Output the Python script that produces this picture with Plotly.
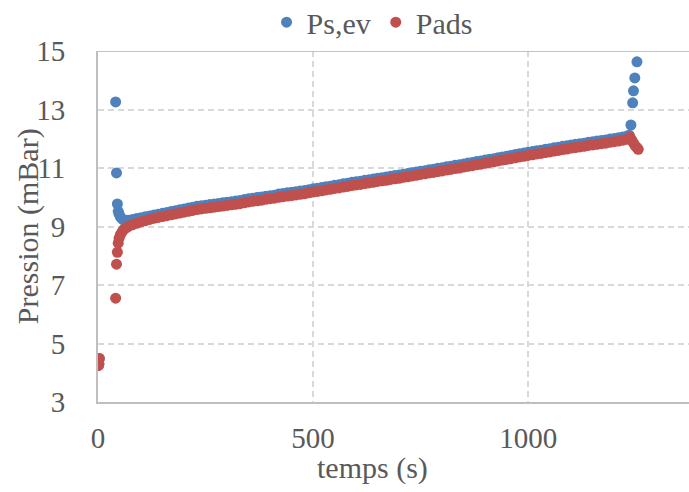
import plotly.graph_objects as go

# ---- data ----
t_ps = [1, 2, 3, 41, 43, 45, 47, 49, 52, 56, 60, 65,
        70, 80, 90, 100, 110, 120, 130, 140, 150, 160, 170, 180, 190, 200,
        210, 220, 230, 240, 250, 260, 270, 280, 290, 300,
        310, 320, 330, 340, 350, 360, 370, 380, 390, 400,
        410, 420, 430, 440, 450, 460, 470, 480, 490, 500,
        510, 520, 530, 540, 550, 560, 570, 580, 590, 600,
        610, 620, 630, 640, 650, 660, 670, 680, 690, 700,
        710, 720, 730, 740, 750, 760, 770, 780, 790, 800,
        810, 820, 830, 840, 850, 860, 870, 880, 890, 900,
        910, 920, 930, 940, 950, 960, 970, 980, 990, 1000,
        1010, 1020, 1030, 1040, 1050, 1060, 1070, 1080, 1090, 1100,
        1110, 1120, 1130, 1140, 1150, 1160, 1170, 1180, 1190, 1200,
        1210, 1220, 1230, 1235, 1239, 1243, 1245, 1248, 1253]
ps_ev = [4.25, 4.30, 4.49, 13.26, 10.83, 9.77, 9.52, 9.42, 9.33, 9.26, 9.22, 9.20,
         9.21, 9.24, 9.27, 9.30, 9.33, 9.36, 9.39, 9.42, 9.45, 9.48, 9.51, 9.54, 9.57, 9.60,
         9.63, 9.66, 9.69, 9.71, 9.73, 9.75, 9.77, 9.79, 9.81, 9.83,
         9.85, 9.87, 9.89, 9.92, 9.95, 9.97, 9.99, 10.01, 10.03, 10.05,
         10.07, 10.11, 10.13, 10.15, 10.17, 10.19, 10.21, 10.23, 10.26, 10.29,
         10.31, 10.33, 10.36, 10.38, 10.41, 10.43, 10.46, 10.48, 10.51, 10.53,
         10.55, 10.58, 10.60, 10.62, 10.65, 10.67, 10.69, 10.72, 10.74, 10.76,
         10.79, 10.81, 10.84, 10.86, 10.89, 10.91, 10.94, 10.96, 10.99, 11.01,
         11.04, 11.06, 11.09, 11.11, 11.14, 11.17, 11.19, 11.22, 11.24, 11.27,
         11.30, 11.32, 11.35, 11.38, 11.40, 11.43, 11.46, 11.49, 11.51, 11.54,
         11.56, 11.59, 11.61, 11.64, 11.66, 11.69, 11.71, 11.74, 11.76, 11.79,
         11.81, 11.83, 11.85, 11.88, 11.90, 11.92, 11.94, 11.96, 11.99, 12.01,
         12.03, 12.06, 12.09, 12.12, 12.47, 13.23, 13.64, 14.08, 14.63]

t_pads = [1, 2, 3, 41, 43, 45, 47, 49, 52, 56, 60, 65,
          70, 80, 90, 100, 110, 120, 130, 140, 150, 160, 170, 180, 190, 200,
          210, 220, 230, 240, 250, 260, 270, 280, 290, 300,
          310, 320, 330, 340, 350, 360, 370, 380, 390, 400,
          410, 420, 430, 440, 450, 460, 470, 480, 490, 500,
          510, 520, 530, 540, 550, 560, 570, 580, 590, 600,
          610, 620, 630, 640, 650, 660, 670, 680, 690, 700,
          710, 720, 730, 740, 750, 760, 770, 780, 790, 800,
          810, 820, 830, 840, 850, 860, 870, 880, 890, 900,
          910, 920, 930, 940, 950, 960, 970, 980, 990, 1000,
          1010, 1020, 1030, 1040, 1050, 1060, 1070, 1080, 1090, 1100,
          1110, 1120, 1130, 1140, 1150, 1160, 1170, 1180, 1190, 1200,
          1210, 1220, 1230, 1237, 1241, 1245, 1249, 1253, 1256]
pads = [4.25, 4.30, 4.49, 6.55, 7.71, 8.12, 8.43, 8.60, 8.72, 8.82, 8.90, 8.95,
        9.00, 9.06, 9.11, 9.16, 9.20, 9.24, 9.28, 9.31, 9.34, 9.37, 9.40, 9.43, 9.46, 9.49,
        9.52, 9.55, 9.58, 9.60, 9.62, 9.64, 9.66, 9.68, 9.70, 9.72,
        9.74, 9.76, 9.78, 9.81, 9.84, 9.86, 9.88, 9.90, 9.93, 9.95,
        9.97, 10.00, 10.02, 10.04, 10.06, 10.08, 10.10, 10.12, 10.15, 10.18,
        10.20, 10.22, 10.25, 10.27, 10.30, 10.32, 10.35, 10.37, 10.40, 10.42,
        10.44, 10.47, 10.49, 10.51, 10.54, 10.56, 10.58, 10.61, 10.63, 10.65,
        10.68, 10.70, 10.73, 10.75, 10.78, 10.80, 10.83, 10.85, 10.88, 10.90,
        10.93, 10.95, 10.98, 11.00, 11.03, 11.06, 11.08, 11.11, 11.13, 11.16,
        11.19, 11.21, 11.24, 11.27, 11.29, 11.32, 11.35, 11.38, 11.40, 11.43,
        11.45, 11.48, 11.50, 11.53, 11.55, 11.58, 11.60, 11.63, 11.65, 11.68,
        11.70, 11.72, 11.74, 11.77, 11.79, 11.81, 11.83, 11.85, 11.88, 11.90,
        11.92, 11.95, 11.98, 12.05, 11.95, 11.85, 11.76, 11.70, 11.64]

x_ticks = [0, 500, 1000]
y_ticks = [3, 5, 7, 9, 11, 13, 15]

FONT = "Liberation Serif"
TXT = "#595959"

fig = go.Figure()
fig.add_trace(go.Scatter(x=t_ps, y=ps_ev, mode="markers", name="Ps,ev",
                         marker=dict(color="#4F81BD", size=11, line=dict(width=0))))
fig.add_trace(go.Scatter(x=t_pads, y=pads, mode="markers", name="Pads",
                         marker=dict(color="#C0504D", size=11, line=dict(width=0))))

fig.update_layout(
    width=689, height=492,
    margin=dict(l=98, r=0, t=51, b=90, autoexpand=False),
    paper_bgcolor="white", plot_bgcolor="white",
    font=dict(family=FONT, size=29, color=TXT),
    showlegend=True,
    legend=dict(orientation="h", xref="container", yref="container",
                x=0.540, xanchor="center", y=0.955, yanchor="middle",
                font=dict(size=30, color=TXT), itemwidth=30,
                bgcolor="rgba(0,0,0,0)"),
    xaxis=dict(range=[0, 1374], tickvals=x_ticks, ticktext=[str(v) for v in x_ticks],
               showgrid=True, gridcolor="#D9D9D9", griddash="6px,4px", gridwidth=1.5,
               showline=True, linecolor="#BFBFBF", linewidth=2,
               zeroline=False, ticks="", ticklabelstandoff=9),
    yaxis=dict(range=[3, 15], tickvals=y_ticks, ticktext=[str(v) for v in y_ticks],
               showgrid=True, gridcolor="#D9D9D9", griddash="6px,4px", gridwidth=1.5,
               showline=True, linecolor="#BFBFBF", linewidth=2,
               zeroline=False, ticks="", ticklabelstandoff=25),
    shapes=[dict(type="line", xref="paper", yref="y", x0=0, x1=1, y0=15, y1=15,
                 line=dict(color="#B0B0B0", width=1.5))],
    annotations=[
        dict(text="Pression (mBar)", xref="paper", yref="paper", x=-0.119, y=0.5,
             xanchor="center", yanchor="middle", textangle=-90, showarrow=False,
             font=dict(size=30, color=TXT, family=FONT)),
        dict(text="temps (s)", xref="paper", yref="paper", x=0.465, y=-0.188,
             xanchor="center", yanchor="middle", showarrow=False,
             font=dict(size=30, color=TXT, family=FONT)),
    ],
)

fig.write_html("out.html", config={"displayModeBar": False},
               post_script="document.body.style.margin='0px';")
